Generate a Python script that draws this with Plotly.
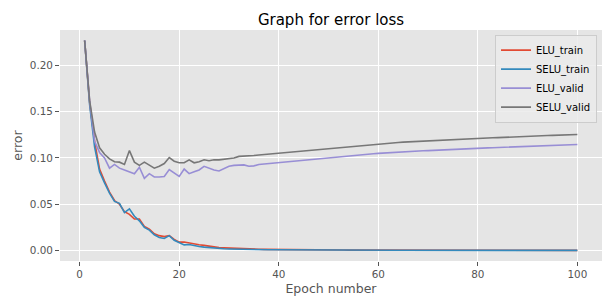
import plotly.graph_objects as go

epochs = list(range(1, 101))

elu_train = [
    0.227, 0.160, 0.118, 0.088, 0.075, 0.063, 0.054, 0.050, 0.042, 0.039,
    0.034, 0.034, 0.026, 0.023, 0.018, 0.016, 0.015, 0.016, 0.012, 0.009,
    0.0092, 0.0080, 0.0070, 0.0062, 0.0055, 0.0045, 0.0036, 0.0031, 0.0028, 0.0025,
    0.0022, 0.0020, 0.0018, 0.0016, 0.0014, 0.0013, 0.0012, 0.0011, 0.0010, 0.0009,
    0.00085, 0.0008, 0.00075, 0.0007, 0.00065, 0.0006, 0.00058, 0.00055, 0.00052, 0.0005,
    0.00047, 0.00045, 0.00043, 0.0004, 0.00038, 0.00036, 0.00035, 0.00033, 0.00031, 0.0003,
    0.00029, 0.00028, 0.00027, 0.00026, 0.00025, 0.00024, 0.00023, 0.00022, 0.00021, 0.0002,
    0.0002, 0.00019, 0.00018, 0.00018, 0.00017, 0.00016, 0.00016, 0.00015, 0.00015, 0.00014,
    0.00014, 0.00013, 0.00013, 0.00012, 0.00012, 0.00012, 0.00011, 0.00011, 0.0001, 0.0001,
    0.0001, 0.0001, 0.00009, 0.00009, 0.00009, 0.00008, 0.00008, 0.00008, 0.00008, 0.00007,
]

selu_train = [
    0.227, 0.158, 0.112, 0.085, 0.073, 0.062, 0.053, 0.051, 0.041, 0.045,
    0.037, 0.032, 0.025, 0.022, 0.017, 0.014, 0.013, 0.016, 0.011, 0.0085,
    0.0060, 0.0065, 0.0050, 0.0042, 0.0036, 0.0030, 0.0025, 0.0021, 0.0018, 0.0016,
    0.0014, 0.0013, 0.0012, 0.0011, 0.0010, 0.0009, 0.00085, 0.0008, 0.00075, 0.0007,
    0.00065, 0.0006, 0.00057, 0.00054, 0.0005, 0.00048, 0.00045, 0.00043, 0.0004, 0.00038,
    0.00036, 0.00034, 0.00033, 0.00031, 0.0003, 0.00029, 0.00027, 0.00026, 0.00025, 0.00024,
    0.00023, 0.00022, 0.00021, 0.0002, 0.0002, 0.00019, 0.00018, 0.00018, 0.00017, 0.00016,
    0.00016, 0.00015, 0.00015, 0.00014, 0.00014, 0.00013, 0.00013, 0.00012, 0.00012, 0.00012,
    0.00011, 0.00011, 0.0001, 0.0001, 0.0001, 0.0001, 0.00009, 0.00009, 0.00009, 0.00008,
    0.00008, 0.00008, 0.00008, 0.00007, 0.00007, 0.00007, 0.00007, 0.00006, 0.00006, 0.00006,
]

elu_valid = [
    0.227, 0.162, 0.118, 0.106, 0.100, 0.089, 0.093, 0.089, 0.087, 0.085,
    0.083, 0.090, 0.078, 0.083, 0.0795, 0.0795, 0.080, 0.0875, 0.084, 0.080,
    0.088, 0.083, 0.085, 0.087, 0.091, 0.089, 0.087, 0.086, 0.0885, 0.091,
    0.092, 0.0925, 0.0925, 0.091, 0.0915, 0.093, 0.0935, 0.094, 0.095, 0.0957,
    0.0961, 0.0965, 0.0969, 0.0973, 0.0978, 0.0983, 0.0988, 0.0993, 0.0999, 0.1004,
    0.1009, 0.1014, 0.1019, 0.1024, 0.1029, 0.1034, 0.1038, 0.1042, 0.1046, 0.105,
    0.1054, 0.1057, 0.106, 0.1063, 0.1066, 0.1069, 0.1072, 0.1075, 0.1078, 0.108,
    0.1083, 0.1086, 0.1088, 0.109, 0.1093, 0.1095, 0.1098, 0.11, 0.1102, 0.1105,
    0.1107, 0.1109, 0.1111, 0.1113, 0.1115, 0.1117, 0.1119, 0.1121, 0.1123, 0.1125,
    0.1127, 0.1129, 0.1131, 0.1133, 0.1135, 0.1137, 0.1139, 0.1141, 0.1143, 0.1146,
]

selu_valid = [
    0.227, 0.162, 0.128, 0.111, 0.104, 0.099, 0.096, 0.0955, 0.093, 0.108,
    0.0955, 0.092, 0.0955, 0.092, 0.089, 0.091, 0.094, 0.1005, 0.0965, 0.0948,
    0.0948, 0.098, 0.0948, 0.096, 0.098, 0.097, 0.098, 0.098, 0.0988, 0.0995,
    0.1, 0.1017, 0.1018, 0.1027, 0.1027, 0.1033, 0.1038, 0.1042, 0.1045, 0.105,
    0.1055, 0.106, 0.1066, 0.1072, 0.1077, 0.1083, 0.1088, 0.1093, 0.1099, 0.1105,
    0.111, 0.1115, 0.112, 0.1125, 0.113, 0.1135, 0.114, 0.1145, 0.115, 0.1155,
    0.1158, 0.1161, 0.1165, 0.1168, 0.1171, 0.1174, 0.1177, 0.1179, 0.1182, 0.1185,
    0.1188, 0.119, 0.1193, 0.1195, 0.1198, 0.12, 0.1203, 0.1205, 0.1208, 0.121,
    0.1213, 0.1215, 0.1218, 0.122, 0.1223, 0.1225, 0.1228, 0.123, 0.1233, 0.1235,
    0.1237, 0.1239, 0.1241, 0.1243, 0.1245, 0.1247, 0.1249, 0.1251, 0.1252, 0.1254,
]

series_names = ["ELU_train", "SELU_train", "ELU_valid", "SELU_valid"]
series_values = [elu_train, selu_train, elu_valid, selu_valid]
colors = ["#E24A33", "#348ABD", "#988ED5", "#777777"]

x_ticks = [0, 20, 40, 60, 80, 100]
y_ticks = [0.00, 0.05, 0.10, 0.15, 0.20]

FONT = "DejaVu Sans"

fig = go.Figure()
for name, vals, col in zip(series_names, series_values, colors):
    fig.add_trace(go.Scatter(x=epochs, y=vals, mode="lines", name=name,
                             line=dict(color=col, width=1.6)))

fig.update_layout(
    width=603, height=296,
    margin=dict(l=60, r=1, t=30, b=35),
    paper_bgcolor="white",
    plot_bgcolor="#E5E5E5",
    font=dict(family=FONT, size=10.4, color="#555555"),
    title=dict(text="Graph for error loss", x=0.5, xref="paper",
               y=1 - 20 / 296, yref="container", yanchor="middle",
               font=dict(family=FONT, size=15, color="black")),
    showlegend=True,
    legend=dict(x=0.9908, y=0.98, xanchor="right", yanchor="top",
                bgcolor="rgba(235,235,235,0.85)", bordercolor="#CCCCCC",
                borderwidth=1, font=dict(family=FONT, size=10, color="black"),
                itemwidth=30, tracegroupgap=0),
)
fig.update_xaxes(
    range=[-3.95, 104.95], tickvals=x_ticks, ticktext=[str(v) for v in x_ticks],
    showgrid=True, gridcolor="white", gridwidth=1, zeroline=False,
    showline=False, ticks="outside", ticklen=4, tickcolor="#555555",
    tickfont=dict(family=FONT, size=10.4, color="#555555"),
    title=dict(text="Epoch number", standoff=4,
               font=dict(family=FONT, size=12.5, color="#555555")),
    automargin=False,
)
fig.update_yaxes(
    range=[-0.0114, 0.2384], tickvals=y_ticks, ticktext=[f"{v:.2f}" for v in y_ticks],
    showgrid=True, gridcolor="white", gridwidth=1, zeroline=False,
    showline=False, ticks="outside", ticklen=4, tickcolor="#555555",
    tickfont=dict(family=FONT, size=10.4, color="#555555"),
    title=dict(text="error", standoff=4,
               font=dict(family=FONT, size=12.5, color="#555555")),
    automargin=False,
)

fig.write_html(
    "out.html",
    config={"displayModeBar": False},
    post_script="document.body.style.margin='0';document.body.style.padding='0';",
)
